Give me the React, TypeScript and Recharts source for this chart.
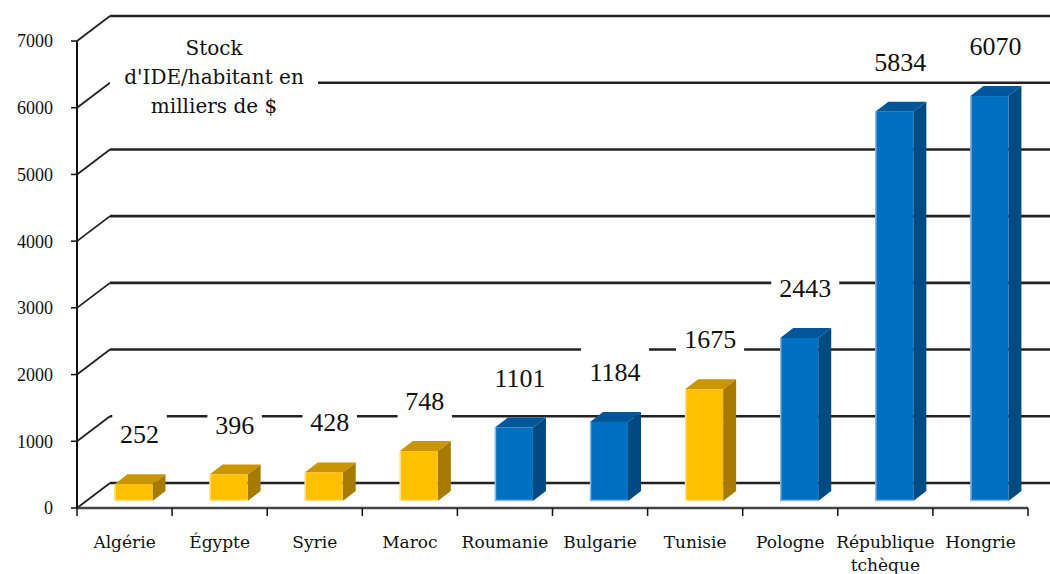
import * as React from 'react';
import { BarChart, Bar, XAxis, YAxis, CartesianGrid, LabelList } from 'recharts';

// Stock d'IDE par habitant (milliers de $)
const categories = [
  'Algérie',
  'Égypte',
  'Syrie',
  'Maroc',
  'Roumanie',
  'Bulgarie',
  'Tunisie',
  'Pologne',
  'République tchèque',
  'Hongrie',
];
const values = [252, 396, 428, 748, 1101, 1184, 1675, 2443, 5834, 6070];
const groups = ['mena', 'mena', 'mena', 'mena', 'eu', 'eu', 'mena', 'eu', 'eu', 'eu'];
const yTicks = [0, 1000, 2000, 3000, 4000, 5000, 6000, 7000];
const titleLines = ['Stock', "d'IDE/habitant en", 'milliers de $'];

const W = 1050;
const H = 574;
const MARGIN = { top: 41, right: 22, bottom: 6, left: 0 };
const Y_AXIS_W = 77;
const X_AXIS_H = 60;
const AXIS_Y = H - MARGIN.bottom - X_AXIS_H;
const BAND = (W - Y_AXIS_W - MARGIN.right) / categories.length;

// 3D look
const WALL_DX = 33;
const WALL_DY = 25;
const BAR_SHIFT_X = 9;
const BAR_SHIFT_Y = 7;
const BAR_DX = 13;
const BAR_DY = 10;

const COLORS: Record<string, { front: string; top: string; side: string; edge: string }> = {
  mena: { front: '#FFC000', top: '#C99500', side: '#A67B00', edge: '#FFE28A' },
  eu: { front: '#0070C0', top: '#00569A', side: '#004A82', edge: '#8DB9E2' },
};

const data = categories.map((name, i) => ({ name, value: values[i], group: groups[i] }));

const SERIF = '"DejaVu Serif", serif';
const TIMES = '"Liberation Serif", serif';

function Bar3D(props: any) {
  const { x, y, width, height, payload } = props;
  if (height == null || width == null) return null;
  const c = COLORS[payload?.group ?? 'eu'];
  const fx = x + BAR_SHIFT_X;
  const fy = y - BAR_SHIFT_Y;
  const fb = fy + height;
  const w = width;
  return (
    <g>
      <polygon
        points={`${fx + w},${fy} ${fx + w + BAR_DX},${fy - BAR_DY} ${fx + w + BAR_DX},${fb - BAR_DY} ${fx + w},${fb}`}
        fill={c.side}
      />
      <polygon
        points={`${fx},${fy} ${fx + BAR_DX},${fy - BAR_DY} ${fx + w + BAR_DX},${fy - BAR_DY} ${fx + w},${fy}`}
        fill={c.top}
      />
      <rect x={fx} y={fy} width={w} height={height} fill={c.front} />
      <line x1={fx + 0.5} y1={fy} x2={fx + 0.5} y2={fb} stroke={c.edge} strokeWidth={1.5} />
      <line x1={fx} y1={fb - 0.5} x2={fx + w} y2={fb - 0.5} stroke={c.edge} strokeWidth={1.5} />
    </g>
  );
}

function ValueLabel(props: any) {
  const vb = props.viewBox ?? {};
  const x = props.x ?? vb.x;
  const y = props.y ?? vb.y;
  const width = props.width ?? vb.width;
  const value = props.value;
  if (x == null || y == null) return null;
  const cx = x + width / 2 + BAR_SHIFT_X + 6;
  const cy = y - BAR_SHIFT_Y - 50;
  const text = String(value);
  const tw = text.length * 13.5 + 14;
  return (
    <g>
      <rect x={cx - tw / 2} y={cy - 24.5} width={tw} height={42.5} fill="#fff" />
      <text x={cx} y={cy + 9} textAnchor="middle" fontFamily={TIMES} fontSize={26} fill="#111">
        {text}
      </text>
    </g>
  );
}

function CategoryTick(props: any) {
  const { x, payload, index } = props;
  const label: string = payload.value;
  const lines = label.length > 12 ? label.split(' ') : [label];
  return (
    <g>
      <line x1={x - BAND / 2} y1={AXIS_Y} x2={x - BAND / 2} y2={AXIS_Y + 8} stroke="#111" strokeWidth={1.5} />
      {index === categories.length - 1 && (
        <line x1={x + BAND / 2} y1={AXIS_Y} x2={x + BAND / 2} y2={AXIS_Y + 8} stroke="#111" strokeWidth={1.5} />
      )}
      {lines.map((l, i) => (
        <text
          key={l}
          x={x}
          y={AXIS_Y + 40 + i * 23}
          textAnchor="middle"
          fontFamily={SERIF}
          fontSize={17}
          fill="#111"
        >
          {l}
        </text>
      ))}
    </g>
  );
}

function gridLine(p: any) {
  const { x1, y1, key } = p;
  return (
    <g key={key}>
      <line x1={x1} y1={y1} x2={x1 + WALL_DX} y2={y1 - WALL_DY} stroke="#222" strokeWidth={1.8} />
      <line x1={x1 + WALL_DX} y1={y1 - WALL_DY} x2={W} y2={y1 - WALL_DY} stroke="#222" strokeWidth={2.6} />
    </g>
  );
}

export default function App() {
  return (
    <div style={{ position: 'absolute', left: 0, top: 0, width: W, height: H, background: '#fff' }}>
      <BarChart width={W} height={H} data={data} margin={MARGIN} barCategoryGap="30%">
        <CartesianGrid vertical={false} horizontal={gridLine} />
        <XAxis
          dataKey="name"
          height={X_AXIS_H}
          interval={0}
          axisLine={{ stroke: '#444', strokeWidth: 2.5 }}
          tickLine={false}
          tick={<CategoryTick />}
        />
        <YAxis
          width={Y_AXIS_W}
          domain={[0, 7000]}
          ticks={yTicks}
          interval={0}
          axisLine={{ stroke: '#111', strokeWidth: 2 }}
          tickLine={{ stroke: '#111', strokeWidth: 1.5 }}
          tickSize={6}
          tickMargin={18}
          tick={{ fill: '#111', fontSize: 18, fontFamily: TIMES }}
        />
        <Bar dataKey="value" shape={<Bar3D />} isAnimationActive={false}>
          <LabelList dataKey="value" content={<ValueLabel />} />
        </Bar>
      </BarChart>
      <div
        style={{
          position: 'absolute',
          left: 110,
          top: 34,
          width: 208,
          height: 88,
          background: '#fff',
          fontFamily: SERIF,
          fontSize: 20,
          lineHeight: '29px',
          textAlign: 'center',
          whiteSpace: 'nowrap',
          color: '#111',
        }}
      >
        {titleLines.map((l) => (
          <div key={l}>{l}</div>
        ))}
      </div>
    </div>
  );
}
